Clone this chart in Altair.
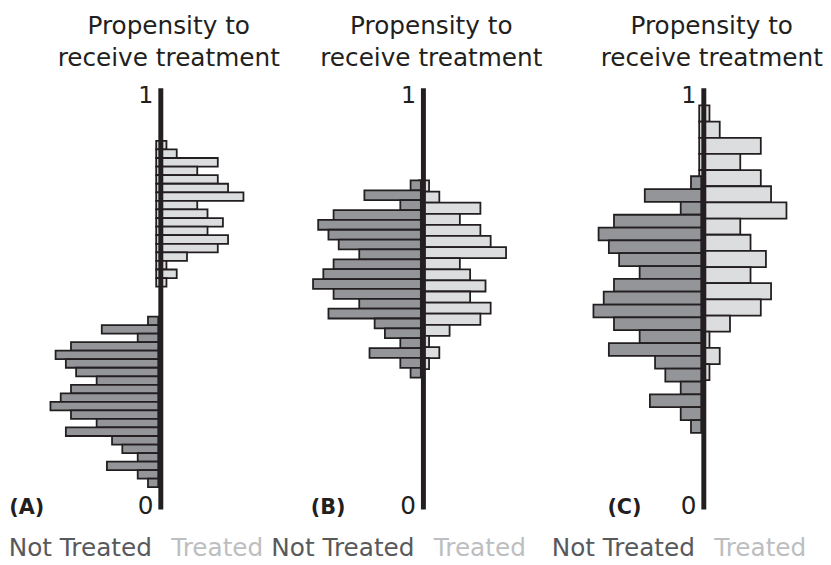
import altair as alt
import pandas as pd

# ---- data ----
# histogram counts, listed from the top bin (high propensity) down
treated_counts = [1, 2, 6, 4, 6, 7, 8.5, 4, 5, 6.5, 5, 7, 6, 3, 1, 2, 1]
control_counts = [1, 5.5, 2, 8.5, 10, 9, 8, 6, 8.5, 9.5, 10.5, 8.5, 6, 9, 4.5, 3.5, 2, 5, 2, 1]
panel_labels = ["(A)", "(B)", "(C)"]
# propensity range (low, high) covered by each group's bins in each panel
treated_ranges = [(0.529, 0.875), (0.333, 0.781), (0.307, 0.959)]
control_ranges = [(0.053, 0.458), (0.313, 0.781), (0.182, 0.791)]
title_lines = ["Propensity to", "receive treatment"]
group_names = ["Not Treated", "Treated"]
top_label, bottom_label = "1", "0"

# ---- style / layout ----
FONT = "DejaVu Sans, Noto Sans, sans-serif"
INK = "#231f20"
DARK = "#939598"
LIGHT = "#dcddde"
NT_COLOR = "#58595b"
T_COLOR = "#bcbec0"
UNIT_PX = 10.38          # pixels per count
PANEL_W = [286, 275, 261]
AXIS_OFF = [153.5, 133, 141.5]
LABEL_DX = [-153.2, -114, -97.5]
H = 557
Y_ONE_PX, Y_ZERO_PX = 78, 504
PX_PER_UNIT_Y = Y_ZERO_PX - Y_ONE_PX
CTRL_BASE = -0.25
TRT_BASE = -0.45


def bins(counts, rng, group):
    lo, hi = rng
    w = (hi - lo) / len(counts)
    rows = []
    for i, c in enumerate(counts):
        rows.append({"group": group, "n": c, "hi": hi - i * w, "lo": hi - (i + 1) * w})
    return pd.DataFrame(rows)


one = pd.DataFrame({"k": [0]})
ydom = [-(H - Y_ZERO_PX) / PX_PER_UNIT_Y, 1 + Y_ONE_PX / PX_PER_UNIT_Y]


def panel(i):
    xs = alt.Scale(domain=[-AXIS_OFF[i] / UNIT_PX, (PANEL_W[i] - AXIS_OFF[i]) / UNIT_PX],
                   nice=False, zero=False)
    ys = alt.Scale(domain=ydom, nice=False, zero=False)
    ctrl_df = bins(control_counts, control_ranges[i], group_names[0])
    trt_df = bins(treated_counts, treated_ranges[i], group_names[1])

    ctrl = alt.Chart(ctrl_df).transform_calculate(
        xe=f"-datum.n + ({CTRL_BASE})"
    ).mark_rect(fill=DARK, stroke=INK, strokeWidth=1.8).encode(
        x=alt.X("xe:Q", scale=xs, axis=None),
        x2=alt.datum(CTRL_BASE),
        y=alt.Y("lo:Q", scale=ys, axis=None),
        y2="hi:Q",
    )
    trt = alt.Chart(trt_df).transform_calculate(
        xe=f"datum.n + ({TRT_BASE})"
    ).mark_rect(fill=LIGHT, stroke=INK, strokeWidth=1.8).encode(
        x=alt.X("xe:Q", scale=xs, axis=None),
        x2=alt.datum(TRT_BASE),
        y=alt.Y("lo:Q", scale=ys, axis=None),
        y2="hi:Q",
    )
    rule = alt.Chart(one).mark_rule(color=INK, strokeWidth=5).encode(
        x=alt.datum(0), y=alt.datum(0), y2=alt.datum(1)
    )

    def txt(text, dx, y, align, size, color=INK, weight="normal", **kw):
        return alt.Chart(one).mark_text(
            text=text, dx=dx, align=align, baseline="alphabetic", fontSize=size,
            font=FONT, color=color, fontWeight=weight, **kw
        ).encode(x=alt.datum(0), y=alt.value(y))

    layers = [
        trt, ctrl, rule,
        txt(title_lines, 8, 23.7, "center", 25, lineHeight=31.6),
        txt(top_label, -7.5, 93, "right", 24),
        txt(bottom_label, -7.5, 508.7, "right", 25),
        txt(panel_labels[i], LABEL_DX[i], 508.5, "left", 21, weight="bold"),
        txt(group_names[0], -9, 551.3, "right", 25, color=NT_COLOR),
        txt(group_names[1], 10.5, 551.3, "left", 25, color=T_COLOR),
    ]
    return alt.layer(*layers).properties(width=PANEL_W[i], height=H)


chart = alt.hconcat(*[panel(i) for i in range(3)], spacing=0, bounds="flush").properties(
    padding=0
).configure_view(stroke=None)

chart.save("out.html", embed_options={"renderer": "svg", "actions": False})
